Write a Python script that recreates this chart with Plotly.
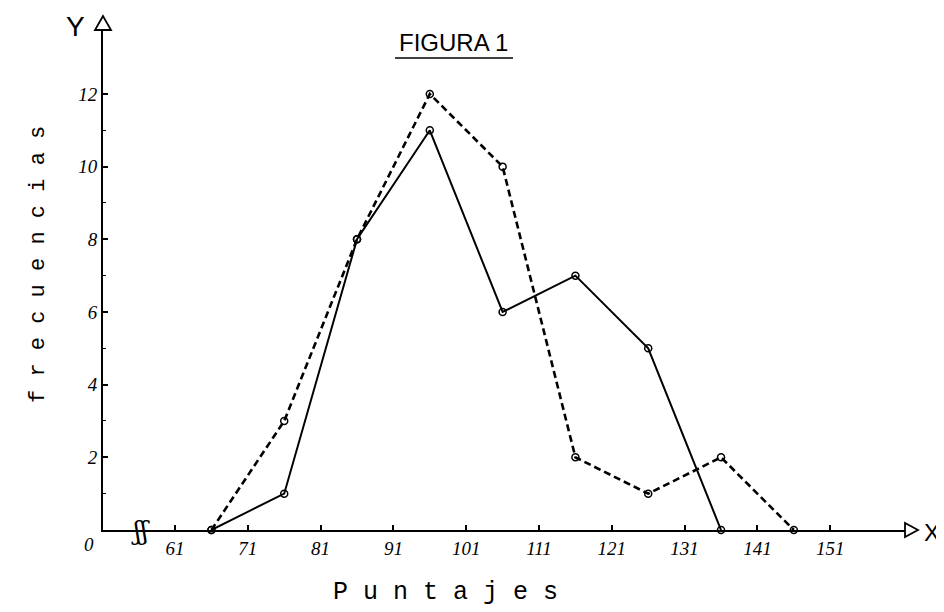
import plotly.graph_objects as go

# Data: class midpoints (Puntajes) and frequencies
puntos_solido = [66, 76, 86, 96, 106, 116, 126, 136]
frec_solido = [0, 1, 8, 11, 6, 7, 5, 0]

puntos_trazos = [66, 76, 86, 96, 106, 116, 126, 136, 146]
frec_trazos = [0, 3, 8, 12, 10, 2, 1, 2, 0]

x_ticks = [61, 71, 81, 91, 101, 111, 121, 131, 141, 151]
x_ticktext = ["61", "71", "81", "91", "101", "111", "121", "131", "141", "151"]
y_ticks = [2, 4, 6, 8, 10, 12]
y_ticktext = ["2", "4", "6", "8", "10", "12"]

X_MIN, X_MAX = 51.11, 161.27
Y_MIN, Y_MAX = 0, 13.76

fig = go.Figure()

fig.add_trace(go.Scatter(
    x=puntos_trazos, y=frec_trazos, mode="lines+markers",
    line=dict(color="black", width=2.6, dash="7px,4px"),
    marker=dict(symbol="circle-open", size=7, color="black", line=dict(width=1.5)),
    cliponaxis=False, showlegend=False, hoverinfo="skip"))

fig.add_trace(go.Scatter(
    x=puntos_solido, y=frec_solido, mode="lines+markers",
    line=dict(color="black", width=2),
    marker=dict(symbol="circle-open", size=7, color="black", line=dict(width=1.5)),
    cliponaxis=False, showlegend=False, hoverinfo="skip"))

tick_font = dict(family="Liberation Serif", size=19, color="black", style="italic")

fig.update_xaxes(
    range=[X_MIN, X_MAX], showgrid=False, zeroline=False,
    showline=True, linecolor="black", linewidth=2,
    tickmode="array", tickvals=x_ticks, ticktext=x_ticktext,
    ticks="inside", ticklen=5, tickwidth=1.5, tickcolor="black",
    tickfont=tick_font)
fig.update_yaxes(
    range=[Y_MIN, Y_MAX], showgrid=False, zeroline=False,
    showline=True, linecolor="black", linewidth=2,
    tickmode="array", tickvals=y_ticks, ticktext=y_ticktext,
    ticks="inside", ticklen=5, tickwidth=1.5, tickcolor="black",
    tickfont=tick_font,
    minor=dict(tickmode="array", tickvals=[1, 3, 5, 7, 9, 11], ticks="inside",
               ticklen=3, tickwidth=1.2, tickcolor="black"))

# text placed by target position on the page (the page has an 8 px body margin)
OFF = 8
W, H = 936, 604
ML, MR, MT, MB = 103 - OFF, 39, 30 - OFF, 82
pw, ph = W - ML - MR, H - MT - MB


def px(xp, yp):
    xf, yf = xp - OFF, yp - OFF
    return (xf - ML) / pw, 1 - (yf - MT) / ph


texts = [
    ("FIGURA 1", 453, 42, dict(family="Liberation Sans", size=24), 0),
    ("P u n t a j e s", 445, 592, dict(family="Liberation Mono", size=25), 0),
    ("f r e c u e n c i a s", 38, 265, dict(family="Liberation Mono", size=22), -90),
    ("Y", 75, 27, dict(family="Liberation Sans", size=28), 0),
    ("X", 932, 532, dict(family="Liberation Sans", size=24), 0),
    ("0", 89, 544, dict(family="Liberation Serif", size=19, style="italic"), 0),
    ("ʃʃ", 140, 531, dict(family="DejaVu Serif", size=26), 0),
]

annotations = []
for t, xp, yp, f, ang in texts:
    ax, ay = px(xp, yp)
    f = dict(f, color="black")
    annotations.append(dict(text=t, x=ax, y=ay, xref="paper", yref="paper",
                            showarrow=False, xanchor="center", yanchor="middle",
                            textangle=ang, font=f))


def tri(points):
    pts = [px(a, b) for a, b in points]
    return "M " + " L ".join(f"{x:.5f},{y:.5f}" for x, y in pts) + " Z"


ux0, uy = px(395, 58)
ux1, _ = px(513, 58)

shapes = [
    dict(type="line", xref="paper", yref="paper",
         x0=ux0, x1=ux1, y0=uy, y1=uy, line=dict(color="black", width=1.5)),
    dict(type="path", xref="paper", yref="paper",
         path=tri([(103, 16), (95, 30), (111, 30)]),
         fillcolor="white", line=dict(color="black", width=1.8)),
    dict(type="path", xref="paper", yref="paper",
         path=tri([(918, 530), (905, 523), (905, 537)]),
         fillcolor="white", line=dict(color="black", width=1.8)),
]

fig.update_layout(
    width=W, height=H,
    margin=dict(l=ML, r=MR, t=MT, b=MB),
    paper_bgcolor="white", plot_bgcolor="white",
    annotations=annotations,
    shapes=shapes,
)

fig.write_html("out.html")
